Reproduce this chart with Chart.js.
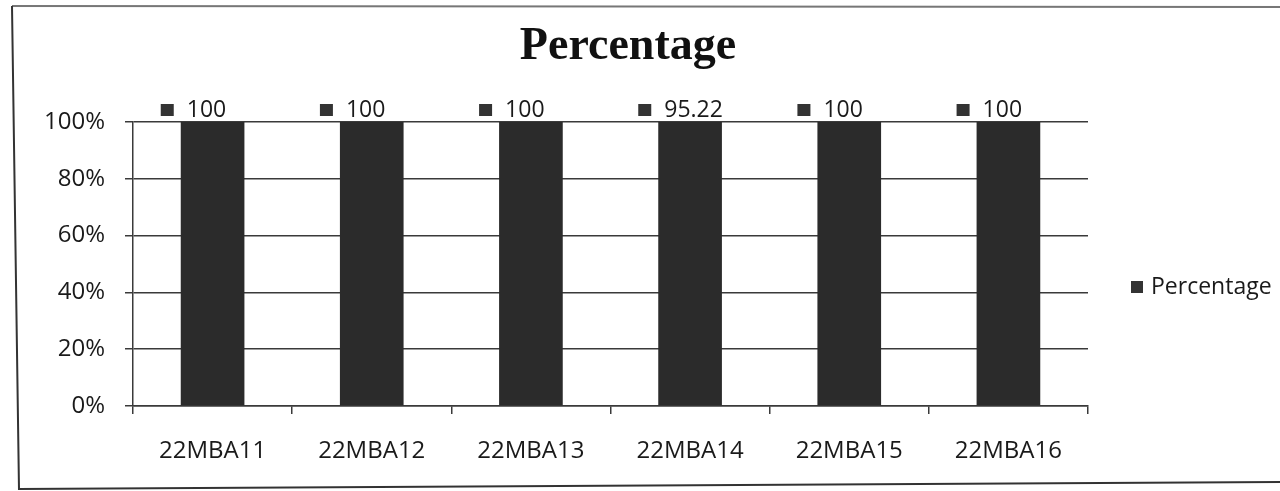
<!DOCTYPE html>
<html>
<head>
<meta charset="utf-8">
<script src="https://cdn.jsdelivr.net/npm/chart.js@4.4.1/dist/chart.umd.min.js"></script>
<style>
  html, body { margin: 0; padding: 0; background: #fff; }
  #wrap { width: 1280px; height: 491px; position: relative; }
</style>
</head>
<body>
<div id="wrap"><canvas id="chart" width="1280" height="491"></canvas></div>
<script>
// data
var categories = ['22MBA11', '22MBA12', '22MBA13', '22MBA14', '22MBA15', '22MBA16'];
var percentage = [100, 100, 100, 95.22, 100, 100];
var yTicks = [0, 20, 40, 60, 80, 100];
var chartTitle = 'Percentage';

var seriesList = [percentage];
// 100% stacked column: each bar is its share of the category total
var shares = percentage.map(function (v, i) {
  var total = 0;
  seriesList.forEach(function (s) { total += s[i]; });
  return v / total * 100;
});

var sansFont = "'Open Sans', 'Liberation Sans', sans-serif";
var barColor = '#2b2b2b';

var frame = {
  id: 'frame',
  beforeDraw: function (chart) {
    var ctx = chart.ctx;
    ctx.save();
    ctx.fillStyle = '#fff';
    ctx.fillRect(0, 0, chart.width, chart.height);
    ctx.lineWidth = 2;
    ctx.strokeStyle = '#777';
    ctx.beginPath();
    ctx.moveTo(12, 6);
    ctx.lineTo(1290, 7);
    ctx.stroke();
    ctx.strokeStyle = '#333';
    ctx.beginPath();
    ctx.moveTo(12, 6);
    ctx.lineTo(19, 489);
    ctx.lineTo(1290, 482);
    ctx.stroke();
    ctx.restore();
  }
};

// title drawn by hand so it sits where the original had it
var titleText = {
  id: 'titleText',
  afterDraw: function (chart) {
    var ctx = chart.ctx;
    ctx.save();
    ctx.font = "bold 46px 'Liberation Serif', 'Times New Roman', serif";
    ctx.fillStyle = '#111';
    ctx.textAlign = 'center';
    ctx.textBaseline = 'alphabetic';
    ctx.fillText(chartTitle, 628, 59);
    ctx.restore();
  }
};

var valueLabels = {
  id: 'valueLabels',
  afterDatasetsDraw: function (chart) {
    var ctx = chart.ctx;
    var meta = chart.getDatasetMeta(0);
    ctx.save();
    ctx.font = '23px ' + sansFont;
    ctx.textBaseline = 'middle';
    ctx.textAlign = 'left';
    meta.data.forEach(function (bar, i) {
      var left = bar.x - bar.width / 2;
      var y = bar.y - 12;
      ctx.fillStyle = '#333';
      ctx.fillRect(left - 20, y - 6, 13, 12);
      ctx.fillStyle = '#1a1a1a';
      ctx.fillText(String(percentage[i]), left + 6, y);
    });
    ctx.restore();
  }
};

var sideLegend = {
  id: 'sideLegend',
  afterDraw: function (chart) {
    var ctx = chart.ctx;
    var ds = chart.data.datasets[0];
    ctx.save();
    ctx.fillStyle = '#333';
    ctx.fillRect(1131, 281, 12, 12);
    ctx.font = '23px ' + sansFont;
    ctx.textBaseline = 'middle';
    ctx.fillStyle = '#1a1a1a';
    ctx.fillText(ds.label, 1151, 287);
    ctx.restore();
  }
};

new Chart(document.getElementById('chart'), {
  type: 'bar',
  data: {
    labels: categories,
    datasets: [{
      label: 'Percentage',
      data: shares,
      backgroundColor: barColor,
      borderWidth: 0,
      barPercentage: 0.4,
      categoryPercentage: 1
    }]
  },
  options: {
    responsive: false,
    animation: false,
    layout: { padding: { left: 0, top: 122, right: 192, bottom: 0 } },
    plugins: {
      legend: { display: false },
      tooltip: { enabled: false },
      title: { display: false }
    },
    scales: {
      x: {
        stacked: true,
        grid: { display: true, drawOnChartArea: false, offset: true, tickLength: 8, color: '#3a3a3a', lineWidth: 1.5 },
        border: { display: true, color: '#3a3a3a', width: 1.5 },
        ticks: { color: '#1a1a1a', font: { family: sansFont, size: 24 }, padding: 23, maxRotation: 0 },
        afterFit: function (scale) { scale.height = 85; }
      },
      y: {
        stacked: true,
        min: 0,
        max: 100,
        afterBuildTicks: function (scale) {
          scale.ticks = yTicks.map(function (v) { return { value: v }; });
        },
        grid: { color: '#3a3a3a', lineWidth: 1.5, tickLength: 8 },
        border: { display: true, color: '#3a3a3a', width: 1.5 },
        ticks: {
          color: '#1a1a1a',
          font: { family: sansFont, size: 24 },
          padding: 20,
          callback: function (v) { return v + '%'; }
        },
        afterFit: function (scale) { scale.width = 133; }
      }
    }
  },
  plugins: [frame, titleText, valueLabels, sideLegend]
});
</script>
</body>
</html>
